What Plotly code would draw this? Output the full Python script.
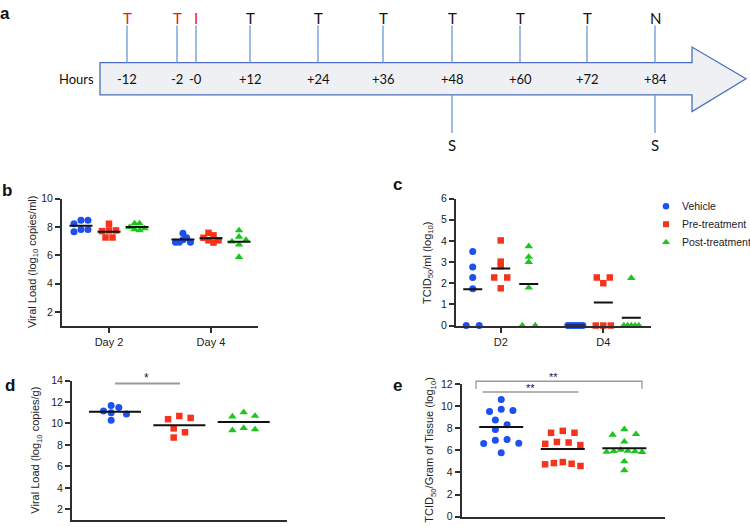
import plotly.graph_objects as go

W, H = 750, 527


def fx(p):
    return p / W


def fy(p):
    return 1 - p / H


# ---------------- data ----------------
groups = ["Vehicle", "Pre-treatment", "Post-treatment"]

# panel a (timeline)
timeline_hours = ["-12", "-2", "-0", "+12", "+24", "+36", "+48", "+60", "+72", "+84"]
timeline_top = ["T", "T", "I", "T", "T", "T", "T", "T", "T", "N"]
timeline_bottom = ["", "", "", "", "", "", "S", "", "", "S"]

# panel b  (Viral load, log10 copies/ml)
b_days = ["Day 2", "Day 4"]
b_vehicle = [[8.46, 8.46, 8.21, 7.82, 7.82, 7.66], [7.55, 7.23, 7.09, 6.91, 6.91, 6.91]]
b_pre = [[8.22, 7.75, 7.75, 7.70, 7.25, 7.25], [7.58, 7.40, 7.23, 7.05, 7.05, 6.89]]
b_post = [[8.24, 8.24, 7.98, 7.89, 7.82, 7.75], [7.75, 7.30, 7.07, 6.96, 6.75, 5.87]]

# panel c  (TCID50/ml, log10)
c_days = ["D2", "D4"]
c_vehicle = [[3.50, 2.77, 2.27, 1.74, 0, 0], [0, 0, 0, 0, 0, 0]]
c_pre = [[4.02, 3.02, 2.80, 2.27, 2.27, 1.76], [2.27, 2.27, 2.00, 0, 0, 0]]
c_post = [[3.74, 3.24, 3.00, 1.79, 0, 0], [2.24, 0, 0, 0, 0, 0]]

# panel d  (Viral load, log10 copies/g)
d_vehicle = [11.68, 11.50, 11.16, 11.00, 10.89, 10.30]
d_pre = [10.70, 10.52, 10.40, 9.54, 9.18, 8.69]
d_post = [11.04, 10.70, 10.64, 9.57, 9.45, 9.36]

# panel e  (TCID50 / gram of tissue, log10)
e_vehicle = [10.59, 9.71, 9.59, 9.50, 8.74, 8.32, 7.88, 6.97, 6.91, 6.65, 6.62, 5.79]
e_pre = [7.76, 7.59, 7.59, 6.76, 6.71, 6.59, 6.47, 4.94, 4.85, 4.79, 4.74, 4.59]
e_post = [7.90, 7.46, 7.40, 6.78, 6.05, 5.95, 5.92, 5.90, 5.86, 5.84, 5.00, 4.20]

# ---------------- style ----------------
colors = ["#1d4ff2", "#f7331c", "#1fc51f"]
symbols = ["circle", "square", "triangle-up"]
msizes = [7, 6.5, 7.5]
FONT = "Liberation Sans, Arial, sans-serif"
AXC = "#2e2e2e"

fig = go.Figure()


def swarm(vals, ppuy, s, d, maxw):
    n = len(vals)
    order = sorted(range(n), key=lambda i: -vals[i])
    off = [0.0] * n
    placed = []
    for i in order:
        y = vals[i] * ppuy
        npos = sum(1 for j in placed if off[j] > 0)
        nneg = sum(1 for j in placed if off[j] < 0)
        cands = [0.0]
        for k in range(1, 30):
            cands += [k * s, -k * s] if npos <= nneg else [-k * s, k * s]
        for c in cands:
            if all((c - off[j]) ** 2 + (y - vals[j] * ppuy) ** 2 >= d * d for j in placed):
                off[i] = c
                break
        placed.append(i)
    # clusters of vertically touching points -> center & compress
    clusters, cur = [], [order[0]]
    for a, b in zip(order[:-1], order[1:]):
        if (vals[a] - vals[b]) * ppuy < d:
            cur.append(b)
        else:
            clusters.append(cur)
            cur = [b]
    clusters.append(cur)
    for cl in clusters:
        lo = min(off[i] for i in cl)
        hi = max(off[i] for i in cl)
        sh = (lo + hi) / 2
        for i in cl:
            off[i] -= sh
        m = max(abs(off[i]) for i in cl)
        if m > maxw:
            for i in cl:
                off[i] *= maxw / m
    return off


def setup_axes(idx, xdom, ydom, xr, yr, ytick, xtickvals=None, xticktext=None):
    xa = "xaxis" if idx == 1 else f"xaxis{idx}"
    ya = "yaxis" if idx == 1 else f"yaxis{idx}"
    fig.layout[xa] = dict(
        domain=[fx(xdom[0]), fx(xdom[1])], range=list(xr), anchor=f"y{'' if idx == 1 else idx}",
        showline=True, linewidth=2, linecolor=AXC, showgrid=False, zeroline=False,
        ticks="outside" if xtickvals else "", ticklen=5, tickwidth=1.5, tickcolor=AXC,
        tickvals=xtickvals or [], ticktext=xticktext or [], showticklabels=bool(xtickvals),
        tickfont=dict(family=FONT, size=11, color="#222"),
    )
    fig.layout[ya] = dict(
        domain=[fy(ydom[1]), fy(ydom[0])], range=list(yr), anchor=f"x{'' if idx == 1 else idx}",
        showline=True, linewidth=2, linecolor=AXC, showgrid=False, zeroline=False,
        ticks="outside", ticklen=5, tickwidth=1.5, tickcolor=AXC, tickvals=ytick,
        tickfont=dict(family=FONT, size=10.5, color="#222"),
    )
    ppux = (xdom[1] - xdom[0]) / (xr[1] - xr[0])
    ppuy = (ydom[1] - ydom[0]) / (yr[1] - yr[0])
    return ppux, ppuy


def add_group(idx, center, vals, gi, ppux, ppuy, s, d, maxw, half):
    xa = "x" if idx == 1 else f"x{idx}"
    ya = "y" if idx == 1 else f"y{idx}"
    offs = swarm(vals, ppuy, s, d, maxw)
    fig.add_trace(go.Scatter(
        x=[center + o / ppux for o in offs], y=vals, mode="markers", xaxis=xa, yaxis=ya,
        marker=dict(symbol=symbols[gi], color=colors[gi], size=msizes[gi], line=dict(width=0)),
        cliponaxis=False, showlegend=False, hoverinfo="skip"))
    m = sum(vals) / len(vals)
    fig.add_trace(go.Scatter(
        x=[center - half / ppux, center + half / ppux], y=[m, m], mode="lines", xaxis=xa, yaxis=ya,
        line=dict(color="#111", width=2), cliponaxis=False, showlegend=False, hoverinfo="skip"))


# ---- panel b ----
ppux, ppuy = setup_axes(1, (62, 258), (197, 327.5), (-0.461, 1.461), (1, 10), [2, 4, 6, 8, 10],
                        [0, 1], b_days)
for di in range(2):
    for gi, series in enumerate([b_vehicle, b_pre, b_post]):
        add_group(1, di + (gi - 1) * 0.275, series[di], gi, ppux, ppuy, 7, 6, 7.5, 11.5)

# ---- panel c ----
ppux, ppuy = setup_axes(2, (456, 651), (197, 327), (-0.436, 1.465), (0, 6), [0, 1, 2, 3, 4, 5, 6],
                        [0, 1], c_days)
for di in range(2):
    for gi, series in enumerate([c_vehicle, c_pre, c_post]):
        add_group(2, di + (gi - 1) * 0.273, series[di], gi, ppux, ppuy, 13, 4.5, 7.5, 9.5)

# ---- panel d ----
ppux, ppuy = setup_axes(3, (72, 287), (383.3, 526), (-0.668, 2.673), (1, 14), [2, 4, 6, 8, 10, 12, 14])
for gi, series in enumerate([d_vehicle, d_pre, d_post]):
    add_group(3, gi, series, gi, ppux, ppuy, 11.3, 7, 11.5, 26)

# ---- panel e ----
ppux, ppuy = setup_axes(4, (461.7, 665), (386.7, 522.7), (-0.642, 2.661), (0, 12), [0, 2, 4, 6, 8, 10, 12])
for gi, series in enumerate([e_vehicle, e_pre, e_post]):
    add_group(4, gi, series, gi, ppux, ppuy, 11.7, 7, 17.7, 22)

# ---- legend (manual, panel c) ----
fig.layout["xaxis5"] = dict(domain=[0, 1], range=[0, W], visible=False, anchor="y5")
fig.layout["yaxis5"] = dict(domain=[0, 1], range=[H, 0], visible=False, anchor="x5")
leg_y = [205, 223.3, 241.7]
for gi, name in enumerate(groups):
    fig.add_trace(go.Scatter(x=[666], y=[leg_y[gi]], mode="markers", xaxis="x5", yaxis="y5",
                             marker=dict(symbol=symbols[gi], color=colors[gi], size=msizes[gi] - 0.5),
                             showlegend=False, hoverinfo="skip", cliponaxis=False))

annotations = []
shapes = []
for gi, name in enumerate(groups):
    annotations.append(dict(x=fx(680), y=fy(leg_y[gi]), xref="paper", yref="paper", text=name,
                            showarrow=False, xanchor="left", yanchor="middle",
                            font=dict(family=FONT, size=10.5, color="#222")))

# ---- panel a : timeline schematic ----
timeline_px = [127, 177, 196, 250, 318, 383, 452, 520, 587, 655]
ARROW_LINE = "#4a6fbf"
TICK_LINE = "#6a9ad8"
body_l, body_r, body_t, body_b = 100, 692, 58, 91
head_t, head_b, tip = 42, 108, 746
path = (f"M {fx(body_l)},{fy(body_t)} L {fx(body_r)},{fy(body_t)} L {fx(body_r)},{fy(head_t)} "
        f"L {fx(tip)},{fy((body_t + body_b) / 2)} L {fx(body_r)},{fy(head_b)} L {fx(body_r)},{fy(body_b)} "
        f"L {fx(body_l)},{fy(body_b)} Z")
shapes.append(dict(type="path", path=path, xref="paper", yref="paper",
                   fillcolor="#eef0f4", line=dict(color=ARROW_LINE, width=1.3), layer="below"))
TL_FONT = "Lato, Open Sans, sans-serif"
for xp, hr, top, bot in zip(timeline_px, timeline_hours, timeline_top, timeline_bottom):
    shapes.append(dict(type="line", xref="paper", yref="paper", x0=fx(xp), x1=fx(xp),
                       y0=fy(20), y1=fy(body_t), line=dict(color=TICK_LINE, width=1.3)))
    col = "#f01414" if hr.startswith("-") else "#111"
    annotations.append(dict(x=fx(xp), y=fy(12), xref="paper", yref="paper", text=top, showarrow=False,
                            font=dict(family=TL_FONT, size=15, color=col), xanchor="center", yanchor="middle"))
    annotations.append(dict(x=fx(xp), y=fy(74.5), xref="paper", yref="paper", text=hr, showarrow=False,
                            font=dict(family=TL_FONT, size=13, color="#111"), xanchor="center", yanchor="middle"))
    if bot:
        shapes.append(dict(type="line", xref="paper", yref="paper", x0=fx(xp), x1=fx(xp),
                           y0=fy(body_b), y1=fy(130), line=dict(color=TICK_LINE, width=1.3)))
        annotations.append(dict(x=fx(xp), y=fy(142), xref="paper", yref="paper", text=bot, showarrow=False,
                                font=dict(family=TL_FONT, size=15, color="#111"), xanchor="center",
                                yanchor="middle"))
annotations.append(dict(x=fx(76), y=fy(74.5), xref="paper", yref="paper", text="Hours", showarrow=False,
                        font=dict(family=TL_FONT, size=13, color="#111"), xanchor="center", yanchor="middle"))

# ---- panel letters ----
for letter, (xp, yp) in zip("abcde", [(5, 8), (7, 189), (397, 183), (10, 388), (397, 388)]):
    annotations.append(dict(x=fx(xp), y=fy(yp), xref="paper", yref="paper", text=f"<b>{letter}</b>",
                            showarrow=False, font=dict(family=FONT, size=17, color="#111"),
                            xanchor="center", yanchor="middle"))

# ---- y axis titles ----
for txt, (xp, yp) in [("Viral Load (log<sub>10</sub> copies/ml)", (33, 262)),
                      ("TCID<sub>50</sub>/ml (log<sub>10</sub>)", (428, 263)),
                      ("Viral Load (log<sub>10</sub> copies/g)", (36, 455)),
                      ("TCID<sub>50</sub>/Gram of Tissue (log<sub>10</sub>)", (430, 454))]:
    annotations.append(dict(x=fx(xp), y=fy(yp), xref="paper", yref="paper", text=txt, textangle=-90,
                            showarrow=False, font=dict(family=FONT, size=11, color="#222"),
                            xanchor="center", yanchor="middle"))

# ---- significance bars ----
SIG = "#9a9a9a"
shapes.append(dict(type="line", xref="paper", yref="paper", x0=fx(115), x1=fx(180), y0=fy(386.3), y1=fy(386.3),
                   line=dict(color=SIG, width=2)))
annotations.append(dict(x=fx(146.7), y=fy(381), xref="paper", yref="paper", text="*", showarrow=False,
                        font=dict(family=FONT, size=12, color="#222"), xanchor="center", yanchor="middle"))
shapes.append(dict(type="path", xref="paper", yref="paper",
                   path=f"M {fx(476)},{fy(392)} L {fx(476)},{fy(384)} L {fx(642)},{fy(384)} L {fx(642)},{fy(392)}",
                   line=dict(color=SIG, width=1.3)))
annotations.append(dict(x=fx(553), y=fy(379.5), xref="paper", yref="paper", text="**", showarrow=False,
                        font=dict(family=FONT, size=11, color="#222"), xanchor="center", yanchor="middle"))
shapes.append(dict(type="line", xref="paper", yref="paper", x0=fx(482.7), x1=fx(578.3), y0=fy(395), y1=fy(395),
                   line=dict(color=SIG, width=1.3)))
annotations.append(dict(x=fx(530), y=fy(391), xref="paper", yref="paper", text="**", showarrow=False,
                        font=dict(family=FONT, size=11, color="#222"), xanchor="center", yanchor="middle"))

fig.update_layout(width=W, height=H, margin=dict(l=0, r=0, t=0, b=0), paper_bgcolor="white",
                  plot_bgcolor="rgba(0,0,0,0)", showlegend=False, annotations=annotations, shapes=shapes)
fig.write_html("out.html")
